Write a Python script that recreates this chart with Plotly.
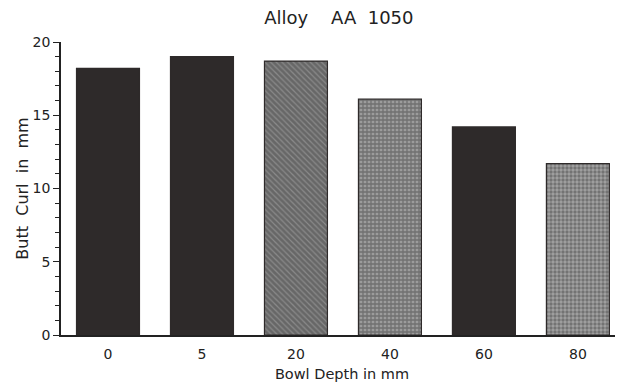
import plotly.graph_objects as go

categories = ["0", "5", "20", "40", "60", "80"]
butt_curl = [18.2, 19.0, 18.7, 16.1, 14.2, 11.7]
y_ticks = [0, 5, 10, 15, 20]

dark = "#2e2a2a"
shapes = ["", "", "\\", "+", "", "."]
bg = [dark, dark, "#8a8a8a", "#9c9c9c", dark, "#a2a2a2"]
fg = [dark, dark, "#2e2a2a", "#2e2a2a", dark, "#333030"]
solid = [0.5, 0.5, 0.7, 0.55, 0.5, 0.55]

fig = go.Figure(go.Bar(
    x=categories, y=butt_curl,
    marker=dict(
        color=bg,
        line=dict(color=dark, width=1.2),
        pattern=dict(shape=shapes, fgcolor=fg, bgcolor=bg, size=4, solidity=solid),
    ),
))

font = "DejaVu Sans, Liberation Sans, sans-serif"
fig.update_layout(
    width=615, height=377,
    margin=dict(l=53, r=0, t=34, b=50, autoexpand=False),
    paper_bgcolor="white", plot_bgcolor="white",
    bargap=0.33, showlegend=False,
    font=dict(family=font, size=14, color="#222"),
    title=dict(text="Alloy    AA  1050", xref="container", x=0.538, xanchor="center",
               yref="container", y=0.973, yanchor="middle",
               font=dict(size=18, color="#222")),
)
fig.update_xaxes(
    range=[-0.5, 5.48], showline=True, linecolor="#222", linewidth=1.5,
    ticks="outside", ticklen=5, tickcolor="rgba(0,0,0,0)",
    showgrid=False, zeroline=False, automargin=False,
    title=dict(text="Bowl Depth in mm", standoff=8, font=dict(size=14.5)),
    tickfont=dict(size=14),
)
fig.update_yaxes(
    range=[0, 20], tickvals=y_ticks, showline=True, linecolor="#222", linewidth=1.5,
    ticks="outside", ticklen=6, tickwidth=1.2, tickcolor="#222",
    minor=dict(dtick=1, ticks="outside", ticklen=4, tickwidth=1, tickcolor="#222"),
    showgrid=False, zeroline=False, automargin=False,
    title=dict(text="Butt  Curl  in  mm", standoff=0, font=dict(size=16)),
    tickfont=dict(size=14),
)

fig.write_html("out.html")
